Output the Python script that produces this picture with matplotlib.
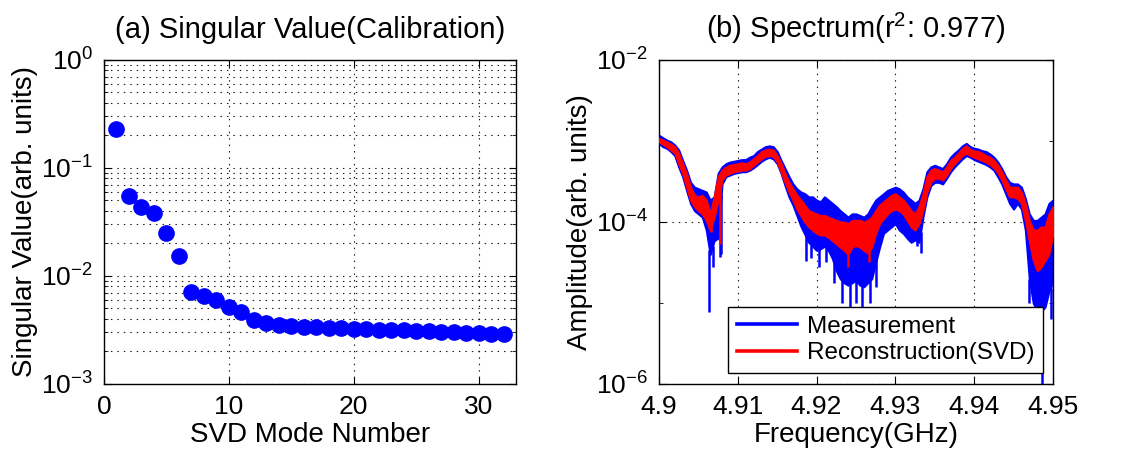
import numpy as np
import matplotlib.pyplot as plt
from matplotlib.ticker import LogLocator, NullFormatter, FixedLocator, FixedFormatter

plt.rcParams['font.family'] = 'Liberation Sans'
plt.rcParams['mathtext.fontset'] = 'custom'
plt.rcParams['mathtext.rm'] = 'Liberation Sans'
plt.rcParams['mathtext.it'] = 'Liberation Sans:italic'
plt.rcParams['mathtext.default'] = 'regular'

# (a) singular values of the calibration matrix
mode = np.arange(1, 33)
sing_val = [0.23, 0.0555, 0.0438, 0.038, 0.0252, 0.0154, 0.00706, 0.00653,
            0.0060, 0.0052, 0.00461, 0.00392, 0.00365, 0.00352, 0.00344, 0.00340,
            0.00337, 0.00330, 0.00327, 0.00326, 0.00322, 0.00318, 0.00316, 0.00313,
            0.00312, 0.00308, 0.00305, 0.00301, 0.00297, 0.00294, 0.00291, 0.00288]

# (b) spectrum, sampled every 0.5 MHz; log10 amplitude of band edges
freq = np.linspace(4.900, 4.950, 101)
meas_hi = [-2.93, -2.96, -2.99, -3.01, -3.05, -3.11, -3.24, -3.36, -3.51, -3.57,
           -3.59, -3.61, -3.63, -3.73, -3.69, -3.40, -3.32, -3.28, -3.26, -3.25,
           -3.24, -3.23, -3.23, -3.20, -3.18, -3.13, -3.10, -3.07, -3.06, -3.07,
           -3.13, -3.24, -3.34, -3.44, -3.53, -3.59, -3.63, -3.65, -3.69, -3.69,
           -3.73, -3.75, -3.69, -3.73, -3.77, -3.81, -3.86, -3.90, -3.94, -3.90,
           -3.90, -3.92, -3.94, -3.90, -3.81, -3.73, -3.69, -3.65, -3.61, -3.59,
           -3.57, -3.59, -3.63, -3.69, -3.73, -3.77, -3.73, -3.59, -3.38, -3.32,
           -3.30, -3.32, -3.34, -3.28, -3.20, -3.15, -3.11, -3.06, -3.03, -3.07,
           -3.09, -3.10, -3.12, -3.13, -3.16, -3.20, -3.26, -3.34, -3.44, -3.51,
           -3.53, -3.53, -3.57, -3.71, -3.90, -3.98, -3.98, -3.94, -3.90, -3.77,
           -3.73]
meas_lo = [-3.03, -3.07, -3.09, -3.13, -3.18, -3.32, -3.44, -3.61, -3.77, -3.86,
           -3.90, -3.94, -4.10, -4.40, -4.23, -4.20, -3.53, -3.44, -3.42, -3.40,
           -3.39, -3.38, -3.38, -3.36, -3.33, -3.29, -3.25, -3.22, -3.20, -3.22,
           -3.28, -3.40, -3.55, -3.69, -3.79, -3.92, -4.05, -4.15, -4.25, -4.30,
           -4.35, -4.33, -4.30, -4.35, -4.45, -4.60, -4.70, -4.75, -4.78, -4.75,
           -4.72, -4.78, -4.80, -4.75, -4.70, -4.50, -4.31, -4.14, -4.10, -4.06,
           -4.02, -4.10, -4.14, -4.20, -4.25, -4.22, -4.25, -3.94, -3.69, -3.55,
           -3.51, -3.51, -3.53, -3.46, -3.38, -3.32, -3.27, -3.22, -3.18, -3.20,
           -3.23, -3.25, -3.27, -3.29, -3.32, -3.36, -3.44, -3.53, -3.65, -3.77,
           -3.84, -3.77, -3.84, -4.10, -4.70, -5.00, -5.10, -5.10, -5.05, -4.85,
           -4.75]
recon_hi = [-2.97, -2.99, -3.01, -3.04, -3.07, -3.15, -3.28, -3.40, -3.57, -3.67,
            -3.69, -3.67, -3.73, -3.90, -3.69, -3.44, -3.36, -3.32, -3.30, -3.29,
            -3.28, -3.27, -3.28, -3.26, -3.22, -3.18, -3.13, -3.11, -3.10, -3.11,
            -3.18, -3.28, -3.40, -3.51, -3.59, -3.67, -3.73, -3.79, -3.86, -3.88,
            -3.90, -3.92, -3.92, -3.94, -3.96, -3.98, -4.00, -4.00, -4.02, -3.98,
            -3.98, -3.98, -4.00, -3.98, -3.94, -3.86, -3.79, -3.75, -3.71, -3.67,
            -3.65, -3.69, -3.73, -3.79, -3.86, -3.90, -3.81, -3.65, -3.44, -3.36,
            -3.34, -3.36, -3.38, -3.32, -3.24, -3.20, -3.15, -3.09, -3.06, -3.11,
            -3.12, -3.13, -3.15, -3.18, -3.20, -3.24, -3.30, -3.38, -3.48, -3.57,
            -3.57, -3.57, -3.63, -3.77, -3.98, -4.10, -4.10, -4.06, -4.06, -3.90,
            -3.81]
recon_lo = [-3.01, -3.04, -3.07, -3.11, -3.15, -3.28, -3.40, -3.57, -3.73, -3.81,
            -3.86, -3.90, -3.98, -4.10, -3.94, -3.73, -3.48, -3.42, -3.40, -3.38,
            -3.37, -3.36, -3.36, -3.34, -3.30, -3.26, -3.22, -3.19, -3.18, -3.19,
            -3.26, -3.38, -3.51, -3.63, -3.73, -3.84, -3.92, -4.00, -4.06, -4.10,
            -4.14, -4.16, -4.16, -4.19, -4.23, -4.27, -4.31, -4.35, -4.40, -4.31,
            -4.29, -4.31, -4.35, -4.38, -4.31, -4.14, -4.02, -3.96, -3.90, -3.86,
            -3.84, -3.86, -3.90, -3.98, -4.06, -4.10, -4.02, -3.86, -3.63, -3.51,
            -3.46, -3.46, -3.48, -3.42, -3.34, -3.28, -3.23, -3.18, -3.15, -3.18,
            -3.20, -3.22, -3.24, -3.26, -3.29, -3.33, -3.39, -3.48, -3.59, -3.69,
            -3.69, -3.71, -3.77, -3.98, -4.23, -4.47, -4.60, -4.56, -4.47, -4.39,
            -4.14]

# narrow dips that fall between samples
meas_dip_f = [4.9064, 4.9068, 4.9077, 4.9079, 4.9186, 4.9193, 4.9203, 4.9212,
              4.9222, 4.9232, 4.9243, 4.9250, 4.9258, 4.9268, 4.9276, 4.9327,
              4.9332, 4.9470, 4.9486, 4.9497]
meas_dip = [-5.11, -4.55, -4.43, -4.40, -4.48, -4.45, -4.55, -4.50,
            -4.75, -5.00, -5.10, -5.00, -5.10, -5.00, -4.80, -4.30,
            -4.38, -5.00, -6.20, -5.20]
recon_dip_f = [4.9066, 4.9078, 4.9240, 4.9267]
recon_dip = [-4.12, -4.27, -4.55, -4.49]

freq_ticks = [4.90, 4.91, 4.92, 4.93, 4.94, 4.95]
freq_labels = ['4.9', '4.91', '4.92', '4.93', '4.94', '4.95']

blue = (0, 0, 1)
red = (1, 0, 0)
grid_kw = dict(color='0.1', linewidth=0.8, linestyle=(0, (1.3, 4.5)))

fig = plt.figure(figsize=(11.23, 4.54), dpi=100)
ax1 = fig.add_axes([0.0926, 0.1542, 0.3669, 0.7137])
ax2 = fig.add_axes([0.5868, 0.1542, 0.3508, 0.7137])

# ---- left panel
ax1.plot(mode, sing_val, 'o', color=blue, mec=blue, ms=11, zorder=3)
ax1.set_yscale('log')
ax1.set_xlim(0, 33)
ax1.set_ylim(1e-3, 1e0)
ax1.set_xticks([0, 10, 20, 30])
ax1.yaxis.set_major_locator(LogLocator(base=10, numticks=10))
ax1.yaxis.set_minor_locator(LogLocator(base=10, subs=np.arange(2, 10), numticks=10))
ax1.yaxis.set_minor_formatter(NullFormatter())
ax1.grid(True, which='major', axis='x', **grid_kw)
ax1.grid(True, which='both', axis='y', **grid_kw)
ax1.set_title('(a) Singular Value(Calibration)', fontsize=21, pad=16)
ax1.set_xlabel('SVD Mode Number', fontsize=20, labelpad=2)
ax1.set_ylabel('Singular Value(arb. units)', fontsize=20, labelpad=2)

# ---- right panel
ax2.fill_between(freq, 10 ** np.array(meas_lo), 10 ** np.array(meas_hi),
                 color=blue, lw=1.5, zorder=2)
base = np.interp(meas_dip_f, freq, meas_lo)
ax2.vlines(meas_dip_f, 10 ** np.array(meas_dip), 10 ** base, colors=[blue],
           lw=1.8, zorder=2)
ax2.fill_between(freq, 10 ** np.array(recon_lo), 10 ** np.array(recon_hi),
                 color=red, lw=1.5, zorder=3)
base = np.interp(recon_dip_f, freq, recon_lo)
ax2.vlines(recon_dip_f, 10 ** np.array(recon_dip), 10 ** base, colors=[red],
           lw=1.8, zorder=3)
ax2.plot([], [], color=blue, lw=2.6, label='Measurement')
ax2.plot([], [], color=red, lw=2.6, label='Reconstruction(SVD)')

ax2.set_yscale('log')
ax2.set_xlim(4.9, 4.95)
ax2.set_ylim(1e-6, 1e-2)
ax2.xaxis.set_major_locator(FixedLocator(freq_ticks))
ax2.xaxis.set_major_formatter(FixedFormatter(freq_labels))
ax2.yaxis.set_major_locator(FixedLocator([1e-6, 1e-4, 1e-2]))
ax2.yaxis.set_minor_locator(FixedLocator([1e-5, 1e-3]))
ax2.yaxis.set_minor_formatter(NullFormatter())
ax2.grid(True, which='major', **grid_kw)
ax2.set_title('(b) Spectrum(r$^2$: 0.977)', fontsize=21, pad=16)
ax2.set_xlabel('Frequency(GHz)', fontsize=20, labelpad=2)
ax2.set_ylabel('Amplitude(arb. units)', fontsize=20, labelpad=2)
leg = ax2.legend(loc='lower right', bbox_to_anchor=(0.975, 0.034),
                 borderaxespad=0, fontsize=17.5, handlelength=2.5,
                 fancybox=False, framealpha=1, edgecolor='k',
                 borderpad=0.35, labelspacing=0.2, handletextpad=0.4)
leg.get_frame().set_linewidth(1.0)
leg.set_zorder(5)

for ax in (ax1, ax2):
    ax.set_axisbelow(True)
    ax.tick_params(which='both', direction='in', top=True, right=True,
                   labelsize=19, pad=8)
    ax.tick_params(which='major', length=5, width=0.8)
    ax.tick_params(which='minor', length=3, width=0.6)
    for s in ax.spines.values():
        s.set_linewidth(1.0)

fig.savefig('out.png', dpi=100)
